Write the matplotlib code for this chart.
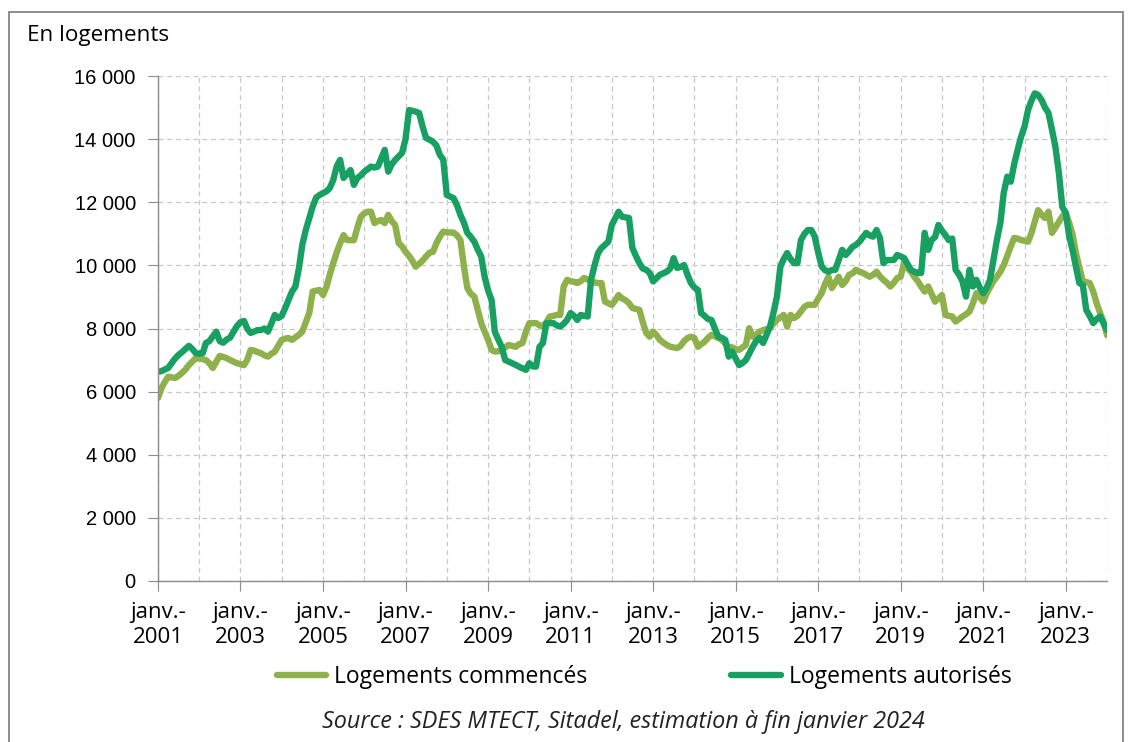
"""
  Logements autorisés et commencés, cumul sur 12 mois (2001-2024).
"""

import numpy as np
import pandas as pd
import matplotlib.pyplot as plt
from matplotlib.ticker import FuncFormatter
from matplotlib.patches import Rectangle

# Mois de janvier 2001 à janvier 2024
mois = pd.date_range('2001-01-01', '2024-01-01', freq='MS')
annees_etiquettes = list(range(2001, 2024, 2))

# Logements autorisés
autorises = [
    6630, 6650, 6700, 6750, 6900, 7050, 7160, 7250, 7350, 7450, 7350, 7220,          # 2001
    7200, 7220, 7540, 7600, 7750, 7900, 7600, 7550, 7650, 7710, 7900, 8080,          # 2002
    8200, 8240, 8000, 7860, 7900, 7950, 7950, 8000, 7900, 8150, 8430, 8330,          # 2003
    8400, 8650, 8900, 9170, 9330, 9900, 10650, 11120, 11500, 11860, 12150, 12230,    # 2004
    12290, 12350, 12450, 12700, 13130, 13340, 12770, 12900, 13020, 12550, 12770, 12850,  # 2005
    12970, 13050, 13130, 13100, 13130, 13400, 13660, 12970, 13200, 13340, 13450, 13560,  # 2006
    14000, 14920, 14900, 14870, 14830, 14400, 14040, 13980, 13920, 13800, 13500, 13350,  # 2007
    12230, 12180, 12130, 11900, 11600, 11350, 11030, 10900, 10750, 10500, 10280, 9640,   # 2008
    9200, 8900, 7900, 7650, 7420, 7000, 6950, 6900, 6850, 6790, 6740, 6690,          # 2009
    6900, 6800, 6790, 7420, 7540, 8170, 8170, 8170, 8100, 8060, 8150, 8270,          # 2010
    8490, 8400, 8270, 8430, 8400, 8380, 9540, 10000, 10390, 10550, 10650, 10750,     # 2011
    11280, 11500, 11700, 11540, 11520, 11500, 10550, 10300, 10070, 9900, 9860, 9760, # 2012
    9490, 9600, 9700, 9750, 9800, 9900, 10230, 9920, 9950, 10010, 9700, 9440,        # 2013
    9300, 9220, 8490, 8400, 8300, 8270, 8000, 7740, 7700, 7640, 7110, 7270,          # 2014
    7050, 6840, 6900, 7000, 7200, 7420, 7600, 7700, 7540, 7800, 8060, 8490,          # 2015
    9000, 9960, 10200, 10390, 10200, 10070, 10070, 10800, 11000, 11120, 11120, 10910,  # 2016
    10400, 9960, 9850, 9800, 9850, 9860, 10170, 10490, 10330, 10450, 10590, 10650,   # 2017
    10750, 10900, 11030, 10950, 10910, 11120, 10870, 10070, 10170, 10170, 10170, 10330,  # 2018
    10280, 10230, 10050, 9860, 9800, 9760, 9760, 11030, 10490, 10800, 10900, 11280,  # 2019
    11100, 10960, 10800, 10850, 9860, 9700, 9490, 9010, 9860, 9330, 9540, 9300,      # 2020
    9120, 9300, 9540, 10170, 10800, 11340, 12300, 12810, 12650, 13200, 13660, 14070, # 2021
    14400, 14920, 15200, 15450, 15400, 15240, 15000, 14830, 14300, 13760, 12930, 11860,  # 2022
    11660, 10910, 10500, 9960, 9440, 9380, 8590, 8400, 8170, 8300, 8380, 8170,       # 2023
    7950,                                                                            # 2024
]

# Logements commencés
commences = [
    5800, 6110, 6300, 6470, 6450, 6430, 6500, 6590, 6700, 6840, 6950, 7060,          # 2001
    7050, 7030, 7000, 6900, 6750, 6950, 7130, 7100, 7060, 7000, 6950, 6900,          # 2002
    6870, 6840, 7000, 7320, 7300, 7250, 7220, 7150, 7110, 7200, 7270, 7450,          # 2003
    7640, 7680, 7700, 7640, 7720, 7800, 7900, 8200, 8490, 9170, 9200, 9220,          # 2004
    9060, 9330, 9700, 10070, 10400, 10700, 10960, 10800, 10800, 10800, 11200, 11540, # 2005
    11650, 11700, 11700, 11340, 11400, 11440, 11340, 11600, 11400, 11280, 10710, 10600,  # 2006
    10430, 10300, 10150, 9960, 10050, 10150, 10280, 10400, 10430, 10700, 10910, 11070,   # 2007
    11050, 11040, 11040, 10950, 10800, 9960, 9280, 9100, 9010, 8600, 8170, 7900,     # 2008
    7640, 7320, 7270, 7280, 7320, 7400, 7480, 7450, 7420, 7500, 7540, 7900,          # 2009
    8170, 8170, 8170, 8100, 8060, 8200, 8380, 8400, 8430, 8430, 9330, 9540,          # 2010
    9500, 9480, 9440, 9500, 9600, 9550, 9490, 9460, 9440, 9440, 8850, 8800,          # 2011
    8750, 8900, 9060, 8950, 8900, 8800, 8650, 8620, 8590, 8200, 7860, 7740,          # 2012
    7900, 7780, 7640, 7550, 7480, 7420, 7400, 7380, 7450, 7600, 7700, 7740,          # 2013
    7700, 7420, 7500, 7580, 7700, 7800, 7750, 7700, 7640, 7520, 7420, 7400,          # 2014
    7350, 7320, 7400, 7480, 8010, 7740, 7800, 7900, 7950, 7980, 8010, 8150,          # 2015
    8270, 8350, 8430, 8060, 8430, 8330, 8400, 8540, 8690, 8750, 8750, 8750,          # 2016
    8950, 9120, 9400, 9640, 9280, 9450, 9640, 9380, 9500, 9700, 9750, 9860,          # 2017
    9800, 9760, 9700, 9640, 9700, 9800, 9650, 9540, 9450, 9330, 9450, 9600,          # 2018
    9640, 10110, 9920, 9800, 9640, 9500, 9330, 9170, 9330, 9100, 8850, 8950,         # 2019
    9060, 8430, 8400, 8380, 8220, 8300, 8380, 8450, 8540, 8800, 9120, 9000,          # 2020
    8850, 9120, 9300, 9500, 9640, 9800, 10010, 10300, 10600, 10870, 10850, 10800,    # 2021
    10780, 10750, 11000, 11380, 11750, 11600, 11500, 11700, 11030, 11200, 11380, 11550,  # 2022
    11660, 11340, 11000, 10390, 9950, 9490, 9470, 9440, 9170, 8800, 8490, 8200,      # 2023
    7790,                                                                            # 2024
]

vert_clair = '#8fb14c'
vert_fonce = '#17a062'
police = ['Open Sans', 'DejaVu Sans']

fig = plt.figure(figsize=(11.3, 7.42), dpi=100)
ax = fig.add_axes([158/1130, 1-581/742, (1107-158)/1130, (581-76)/742])

ax.plot(mois, commences, color=vert_clair, lw=4.6, label='Logements commencés',
        solid_joinstyle='round', solid_capstyle='round')
ax.plot(mois, autorises, color=vert_fonce, lw=4.6, label='Logements autorisés',
        solid_joinstyle='round', solid_capstyle='round')

ax.set_ylim(0, 16000)
ax.set_yticks(np.arange(0, 16001, 2000))
ax.yaxis.set_major_formatter(FuncFormatter(lambda v, p: f'{int(v):,}'.replace(',', ' ')))
ax.set_xlim(mois[0], mois[-1])
ax.set_xticks([pd.Timestamp(f'{a}-01-01') for a in annees_etiquettes])
ax.set_xticklabels([f'janv.-\n{a}' for a in annees_etiquettes])
ax.set_xticks([pd.Timestamp(f'{a}-01-01') for a in range(2002, 2025)], minor=True)

ax.grid(True, which='both', axis='x', color='#c8c8c8', ls=(0, (4, 3)), lw=0.9)
ax.grid(True, which='major', axis='y', color='#c8c8c8', ls=(0, (4, 3)), lw=0.9)
ax.set_axisbelow(True)
for s in ['top', 'right']:
    ax.spines[s].set_visible(False)
for s in ['left', 'bottom']:
    ax.spines[s].set_color('#8c8c8c')
    ax.spines[s].set_linewidth(1.0)

ax.tick_params(axis='y', length=7, color='#8c8c8c', labelsize=14.5, pad=9)
ax.tick_params(axis='x', which='major', length=7, color='#8c8c8c', pad=8)
ax.tick_params(axis='x', which='minor', length=0)
for t in ax.get_yticklabels():
    t.set_family('Liberation Sans')
for t in ax.get_xticklabels():
    t.set_family(police)
    t.set_fontsize(16)
    t.set_linespacing(1.25)

fig.text(27/1130, 1-35/742, 'En logements', family=police, fontsize=16.2,
         va='center', ha='left')

fig.legend(loc='center', bbox_to_anchor=(644/1130, 1-677/742), ncol=2, frameon=False,
           prop={'family': police, 'size': 16.5}, handlelength=2.15, columnspacing=6.3,
           handletextpad=0.35)

fig.text(623/1130, 1-722/742, 'Source : SDES MTECT, Sitadel, estimation à fin janvier 2024',
         family=police, style='italic', fontsize=16.8, ha='center', va='center',
         color='#222222')

# cadre gris autour de la figure
fig.patches.append(Rectangle((9/1130, -0.05), (1123-9)/1130, 1.05-12/742,
                             transform=fig.transFigure, fill=False,
                             edgecolor='#7a7a7a', lw=1.2))

plt.savefig('out.png', dpi=100)
